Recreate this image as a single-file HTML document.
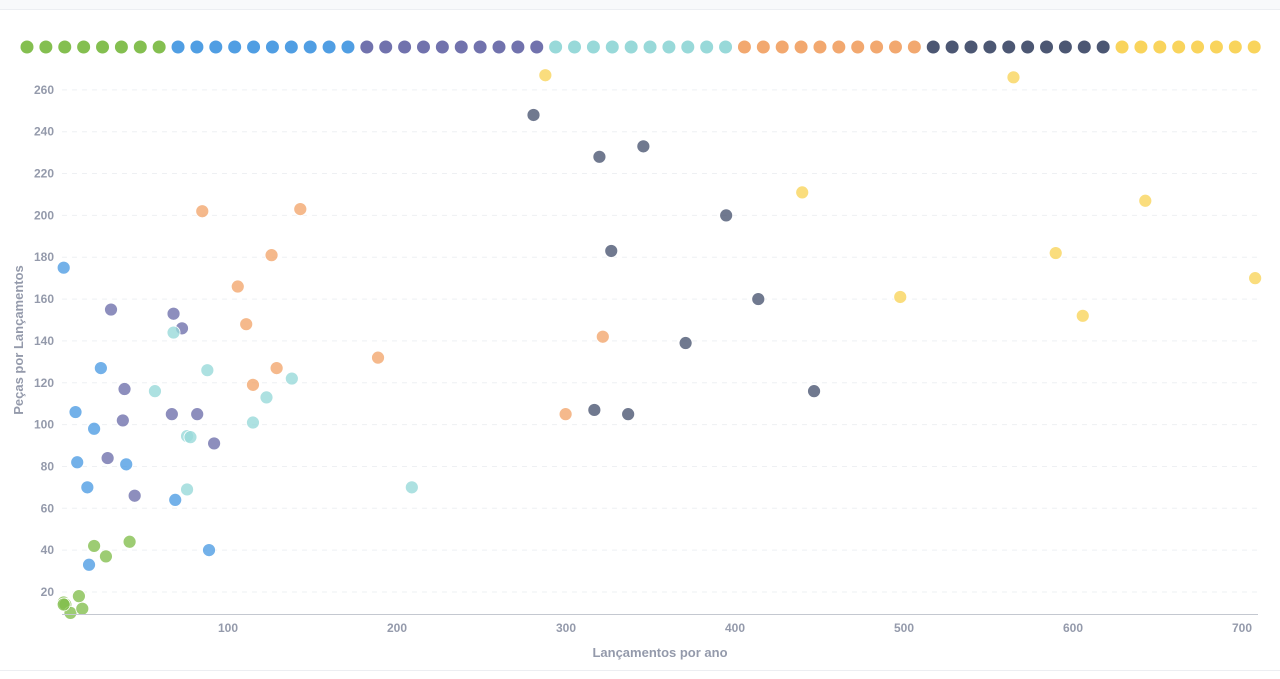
<!DOCTYPE html>
<html><head><meta charset="utf-8"><style>
body{margin:0;background:#fff;font-family:"Liberation Sans",sans-serif}
svg text{font-family:"Liberation Sans",sans-serif;font-weight:bold;fill:#949aab}
</style></head><body>
<svg id="c" width="1280" height="674">
<rect x="0" y="0" width="1280" height="9" fill="#f8f9fb"/>
<line x1="0" y1="9.5" x2="1280" y2="9.5" stroke="#eceef2"/>
<line x1="0" y1="670.5" x2="1280" y2="670.5" stroke="#eceef2"/>
<g id="grid"></g><g id="legend"></g><g id="pts"></g>
<line x1="62" y1="614.5" x2="1258" y2="614.5" stroke="#c4c8d0"/>
<text x="660" y="657" text-anchor="middle" font-size="13">Lançamentos por ano</text>
<text transform="translate(23,340) rotate(-90)" text-anchor="middle" font-size="13">Peças por Lançamentos</text>
</svg>
<script>
const colors=["#84bf50","#509ee3","#7172ad","#98d9d9","#f2a86f","#4c5773","#f9d45c"];
const legendCounts=[8,10,10,10,10,10,8];
const yTicks=[20,40,60,80,100,120,140,160,180,200,220,240,260];
const xTicks=[100,200,300,400,500,600,700];
const sGreen=[[1,15],[2,14],[10,18],[5,10],[12,12],[1,14],[19,42],[26,37],[40,44]];
const sBlue=[[1,175],[8,106],[9,82],[15,70],[19,98],[23,127],[16,33],[38,81],[67,64],[87,40]];
const sPurple=[[29,155],[37,117],[36,102],[27,84],[43,66],[66,153],[71,146],[65,105],[80,105],[90,91]];
const sTeal=[[66,144],[55,116],[86,126],[74,94.5],[76,94],[74,69],[113,101],[121,113],[136,122],[207,70]];
const sOrange=[[83,202],[141,203],[124,181],[104,166],[109,148],[127,127],[113,119],[187,132],[298,105],[320,142]];
const sDark=[[279,248],[318,228],[344,233],[325,183],[393,200],[412,160],[369,139],[315,107],[335,105],[445,116]];
const sYellow=[[286,267],[563,266],[438,211],[588,182],[496,161],[604,152],[641,207],[706,170]];
const series=[sGreen,sBlue,sPurple,sTeal,sOrange,sDark,sYellow];
const NS="http://www.w3.org/2000/svg";
const X=v=>62+v*1.69, Y=v=>633.8-v*2.092;
function mk(t,a,p){const e=document.createElementNS(NS,t);for(const k in a)e.setAttribute(k,a[k]);p.appendChild(e);return e;}
const grid=document.getElementById('grid');
yTicks.forEach(v=>{
 const l=mk('line',{x1:62,x2:1258,y1:Y(v),y2:Y(v),stroke:'#eef0f3','stroke-dasharray':'5,5'},grid);
 
 
 const t=mk('text',{x:54,y:Y(v)+4,'text-anchor':'end','font-size':12},grid);t.textContent=v;
 
 
});
xTicks.forEach(v=>{
 const t=mk('text',{x:X(v)-3,y:632,'text-anchor':'middle','font-size':12},grid);t.textContent=v;
 
 
});
const lg=document.getElementById('legend');let i=0;
legendCounts.forEach((n,s)=>{for(let k=0;k<n;k++){
 const c=mk('circle',{cx:27+i*18.88,cy:47,r:6.5,fill:colors[s]},lg);
 
 
 i++;}});
const pts=document.getElementById('pts');
series.forEach((arr,s)=>arr.forEach(p=>{
 const c=mk('circle',{cx:X(p[0]),cy:Y(p[1]),r:6.5,fill:colors[s],'fill-opacity':0.8,stroke:'#fff','stroke-width':0.8},pts);
 
 
}));
</script>
</body></html>
